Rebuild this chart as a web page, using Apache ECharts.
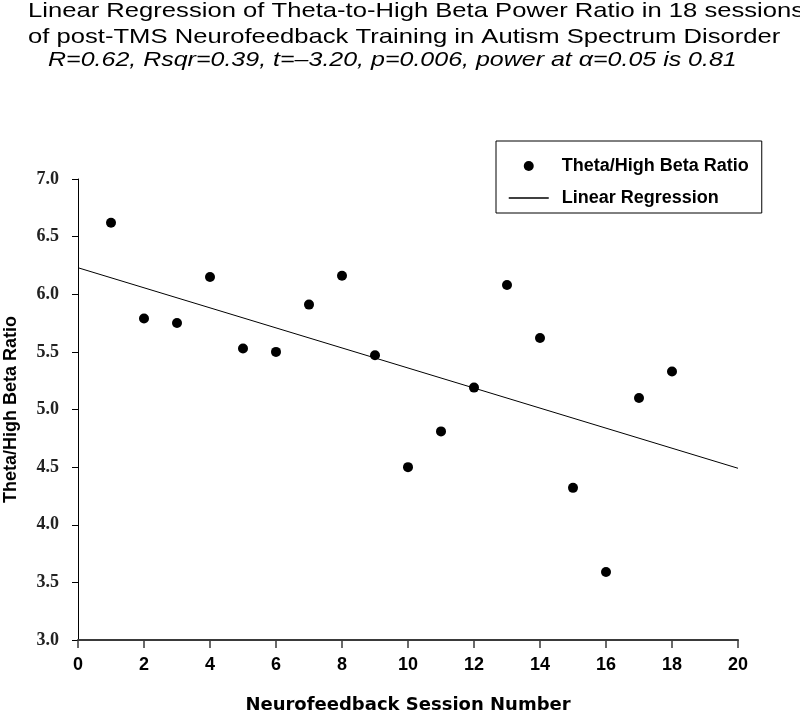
<!DOCTYPE html>
<html>
<head>
<meta charset="utf-8">
<script src="https://cdn.jsdelivr.net/npm/echarts@6/dist/echarts.min.js"></script>
<style>
html,body{margin:0;padding:0;background:#fff;}
#chart{width:800px;height:715px;}
</style>
</head>
<body>
<div id="chart"></div>
<script>
// ---- data ----
var titleLines = [
  "Linear Regression of Theta-to-High Beta Power Ratio in 18 sessions",
  "of post-TMS Neurofeedback Training in Autism Spectrum Disorder",
  "R=0.62, Rsqr=0.39, t=\u20133.20, p=0.006, power at \u03b1=0.05 is 0.81"
];
var sessions = [1,2,3,4,5,6,7,8,9,10,11,12,13,14,15,16,17,18];
var ratios = [6.62,5.79,5.75,6.15,5.53,5.50,5.91,6.16,5.47,4.50,4.81,5.19,6.08,5.62,4.32,3.59,5.10,5.33];
var regX = [0,20];
var regY = [6.23,4.49];
var seriesNames = ["Theta/High Beta Ratio","Linear Regression"];
var xAxisName = "Neurofeedback Session Number";
var yAxisName = "Theta/High Beta Ratio";

var scatterData = sessions.map(function(s,i){return [s, ratios[i]];});
var lineData = regX.map(function(x,i){return [x, regY[i]];});

var chart = echarts.init(document.getElementById('chart'), null, {renderer:'canvas'});
chart.setOption({
  backgroundColor:'#ffffff',
  animation:false,
  graphic:[
    {type:'text', x:28, y:11, scaleX:1.22, style:{text:titleLines[0], font:'21px "Liberation Sans", Arial, sans-serif', fill:'#000', textAlign:'left', textVerticalAlign:'middle'}},
    {type:'text', x:28, y:37, scaleX:1.22, style:{text:titleLines[1], font:'21px "Liberation Sans", Arial, sans-serif', fill:'#000', textAlign:'left', textVerticalAlign:'middle'}},
    {type:'text', x:48, y:60, scaleX:1.19, style:{text:titleLines[2], font:'italic 21px "Liberation Sans", Arial, sans-serif', fill:'#000', textAlign:'left', textVerticalAlign:'middle'}}
  ],
  legend:{
    orient:'vertical',
    left:496, top:141,
    padding:[15,13,5,12],
    borderColor:'#000', borderWidth:1,
    itemWidth:40, itemHeight:10, itemGap:12,
    textStyle:{fontFamily:'"Liberation Sans", Arial, sans-serif', fontWeight:'bold', fontSize:18, color:'#000', lineHeight:20, padding:[0,0,0,8]},
    data:[
      {name:seriesNames[0], icon:'circle', itemStyle:{color:'#000', opacity:1}},
      {name:seriesNames[1], itemStyle:{opacity:0}, lineStyle:{color:'#000', width:1.5, opacity:1}}
    ]
  },
  grid:{left:78, right:62, top:179, bottom:75, containLabel:false, outerBoundsMode:'none'},
  xAxis:{
    type:'value', min:0, max:20, interval:2,
    name:xAxisName, nameLocation:'middle', nameGap:56,
    nameTextStyle:{fontFamily:'"DejaVu Sans", sans-serif', fontWeight:'bold', fontSize:18, color:'#000'},
    axisLine:{show:true, onZero:false, lineStyle:{color:'#3a3a3a', width:2}},
    axisTick:{show:true, length:8, lineStyle:{color:'#3a3a3a', width:1.5}},
    axisLabel:{margin:16, fontFamily:'"Liberation Sans Narrow", "Liberation Sans", Arial, sans-serif', fontWeight:'bold', fontSize:18, color:'#000'},
    splitLine:{show:false}
  },
  yAxis:{
    type:'value', min:3, max:7, interval:0.5,
    name:yAxisName, nameLocation:'middle', nameGap:58, nameRotate:90,
    nameTextStyle:{fontFamily:'"Liberation Sans", Arial, sans-serif', fontWeight:'bold', fontSize:18, color:'#000'},
    axisLine:{show:true, lineStyle:{color:'#000', width:1}},
    axisTick:{show:true, length:6, lineStyle:{color:'#000', width:1}},
    axisLabel:{margin:19, fontFamily:'"Liberation Serif", "Times New Roman", serif', fontWeight:'bold', fontSize:18, color:'#222',
      formatter:function(v){return v.toFixed(1);}},
    splitLine:{show:false}
  },
  series:[
    {name:seriesNames[0], type:'scatter', data:scatterData, symbol:'circle', symbolSize:10,
     itemStyle:{color:'#000', opacity:1}, z:3},
    {name:seriesNames[1], type:'line', data:lineData, symbol:'none', showSymbol:false,
     lineStyle:{color:'#000', width:1}, itemStyle:{color:'#000'}, z:2}
  ]
});
</script>
</body>
</html>
